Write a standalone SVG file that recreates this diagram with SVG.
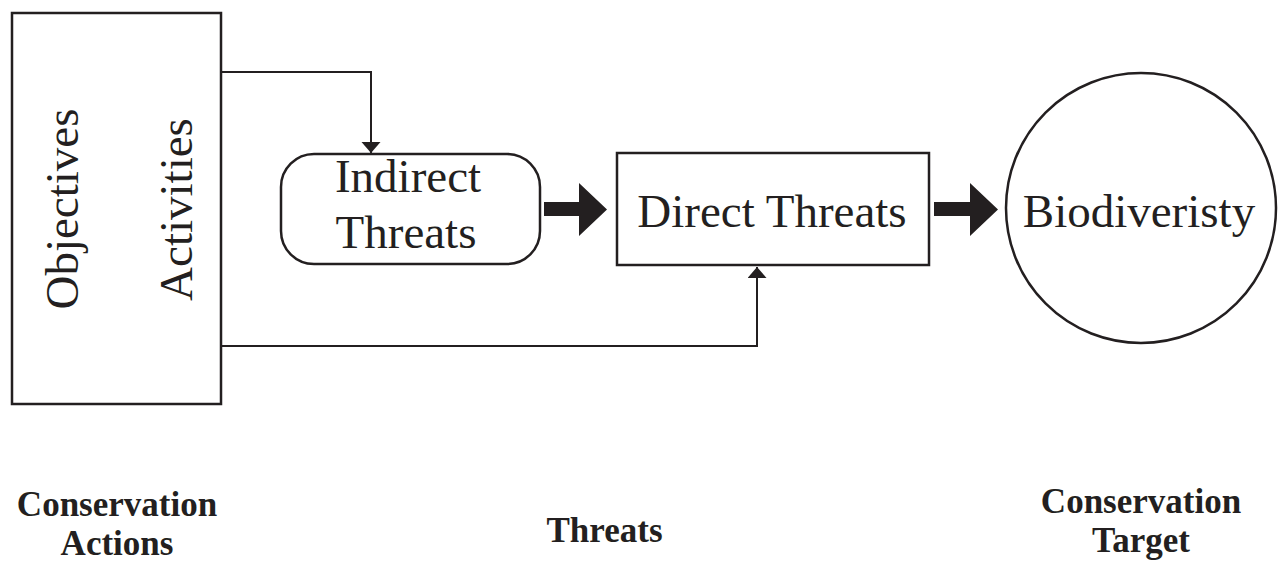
<svg xmlns="http://www.w3.org/2000/svg" width="1278" height="569" viewBox="0 0 1278 569">
<style>
.shape{fill:#fff;stroke:#231f20;stroke-width:2.5}
.line{fill:none;stroke:#231f20;stroke-width:2}
.t{font-family:"Liberation Serif","Times New Roman",serif;font-size:47px;fill:#231f20;text-anchor:middle}
.b{font-family:"Liberation Serif","Times New Roman",serif;font-size:35px;font-weight:bold;fill:#231f20;text-anchor:middle}
.fat{fill:#231f20}
</style>
<defs>
<marker id="ah" markerWidth="12" markerHeight="20" refX="11" refY="9.5" orient="auto" markerUnits="userSpaceOnUse" viewBox="0 0 12 20">
<path d="M0,0 L11,9.5 L0,19 Z" fill="#231f20"/>
</marker>
</defs>
<rect width="1278" height="569" fill="#fff"/>
<g id="actions">
<rect class="shape" x="12" y="13" width="209" height="391"/>
<text class="t" transform="translate(78,209) rotate(-90)">Objectives</text>
<text class="t" transform="translate(192,209.5) rotate(-90)">Activities</text>
</g>
<g id="indirect">
<rect class="shape" x="281" y="154" width="259" height="110" rx="33" ry="33"/>
<text class="t" x="408" y="192">Indirect</text>
<text class="t" x="406" y="248">Threats</text>
</g>
<g id="direct">
<rect class="shape" x="617" y="153" width="312" height="112"/>
<text class="t" x="772" y="227">Direct Threats</text>
</g>
<g id="biodiversity">
<circle class="shape" cx="1141" cy="208" r="135"/>
<text class="t" x="1139" y="227">Biodiveristy</text>
</g>
<g id="connectors">
<path class="line" d="M222,72 H371 V153" marker-end="url(#ah)"/>
<path class="line" d="M220,346 H757 V267" marker-end="url(#ah)"/>
<path class="fat" d="M544,202 H579 V183 L607,209.5 L579,236 V216 H544 Z"/>
<path class="fat" d="M934,202 H970 V183 L998,209.5 L970,236 V216 H934 Z"/>
</g>
<g id="labels">
<text class="b" x="117" y="516">Conservation</text>
<text class="b" x="117" y="555">Actions</text>
<text class="b" x="604.5" y="542">Threats</text>
<text class="b" x="1141" y="513">Conservation</text>
<text class="b" x="1141" y="552">Target</text>
</g>
</svg>
